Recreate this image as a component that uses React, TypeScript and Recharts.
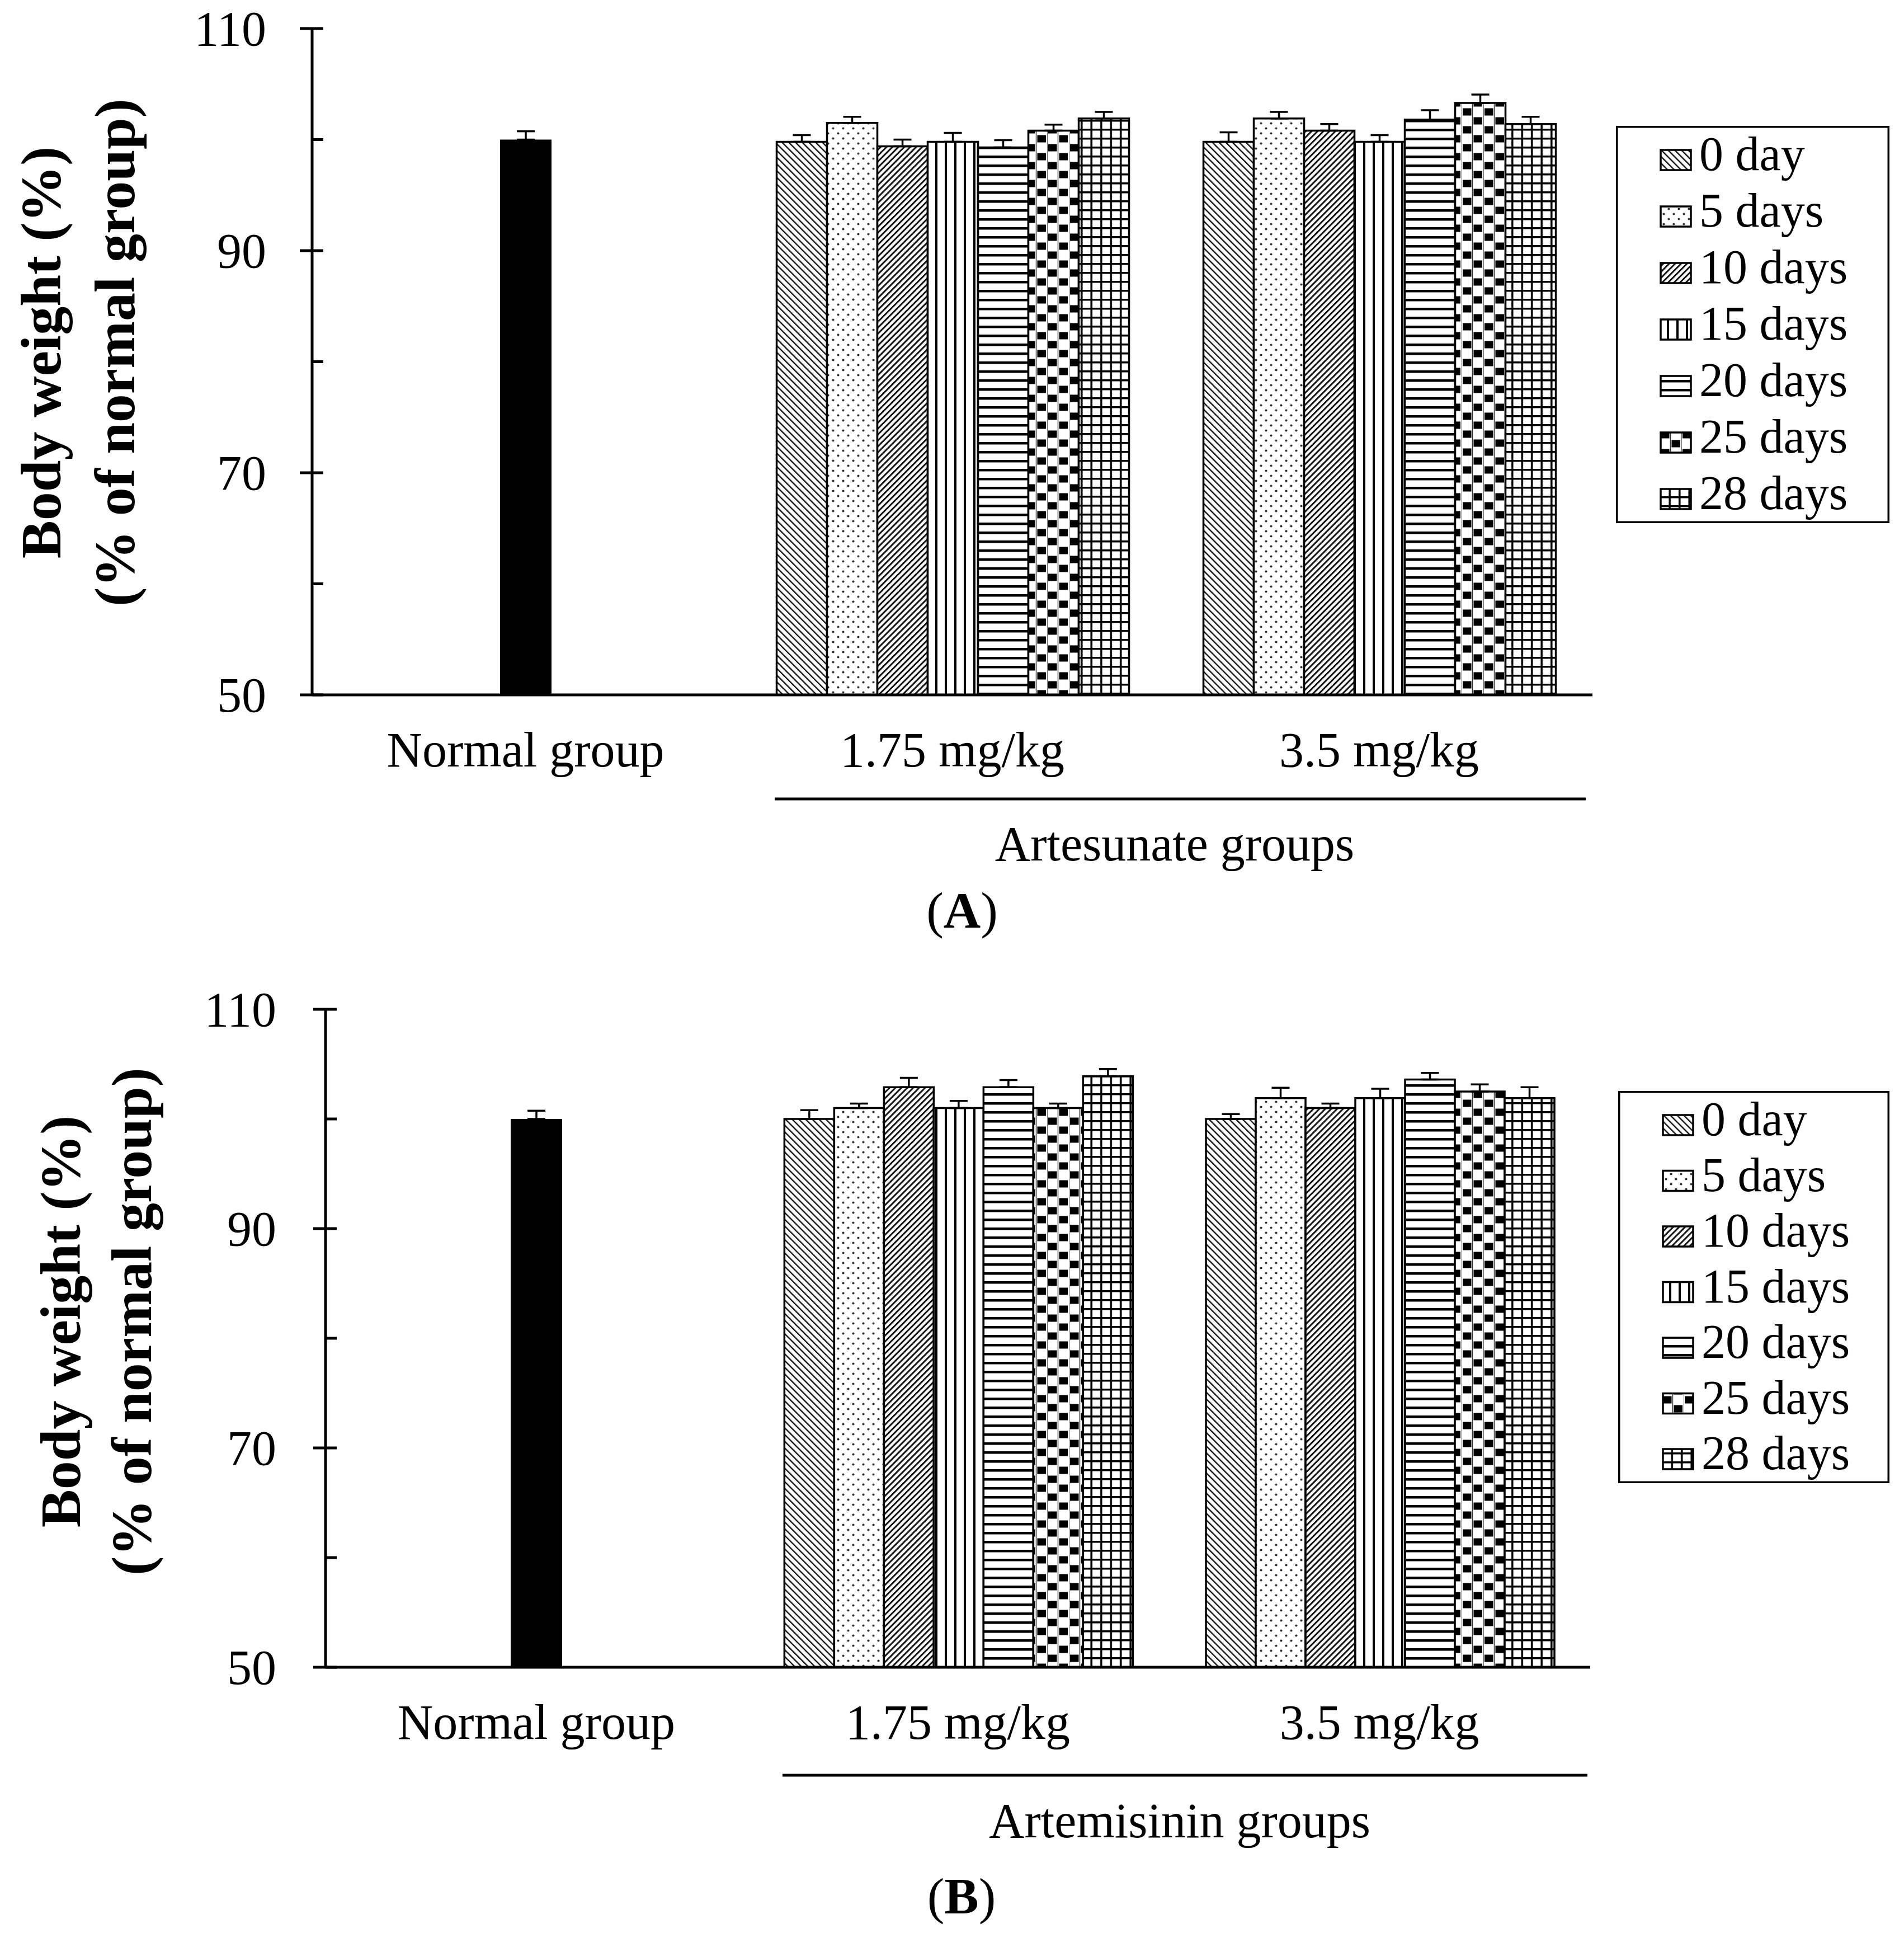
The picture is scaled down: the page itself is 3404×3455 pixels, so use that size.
import React from 'react';
import { BarChart, Bar, XAxis, YAxis, ErrorBar } from 'recharts';

// ─── Data ───────────────────────────────────────────────────────────────────

const categories = ['Normal group', '1.75 mg/kg', '3.5 mg/kg'];
const dayLabels = ['0 day', '5 days', '10 days', '15 days', '20 days', '25 days', '28 days'];
const yTicks = [50, 60, 70, 80, 90, 100, 110];
const yTickLabels = [50, 70, 90, 110];

// (A) artesunate
const normalA = 100.0;
const normalAErr = 0.75;
const artesunateLow = [99.8, 101.5, 99.4, 99.8, 99.3, 100.8, 101.9];
const artesunateLowErr = [0.6, 0.55, 0.6, 0.8, 0.65, 0.55, 0.6];
const artesunateHigh = [99.8, 101.9, 100.8, 99.8, 101.8, 103.3, 101.4];
const artesunateHighErr = [0.85, 0.6, 0.6, 0.6, 0.85, 0.75, 0.65];

// (B) artemisinin
const normalB = 100.0;
const normalBErr = 0.75;
const artemisininLow = [100.0, 101.0, 102.9, 101.0, 102.9, 101.0, 103.9];
const artemisininLowErr = [0.8, 0.4, 0.85, 0.65, 0.65, 0.4, 0.65];
const artemisininHigh = [100.0, 101.9, 101.0, 101.9, 103.6, 102.5, 101.9];
const artemisininHighErr = [0.45, 0.95, 0.4, 0.85, 0.6, 0.65, 1.0];

const seriesKeys = dayLabels.map((_, i) => `d${i}`);

function buildRows(
  normal: number,
  normalErr: number,
  low: number[],
  lowErr: number[],
  high: number[],
  highErr: number[],
) {
  return categories.map((cat, c) => {
    const row: Record<string, string | number | null> = { cat };
    if (c === 0) {
      row.normal = normal;
      row.normalErr = normalErr;
    } else {
      const vals = c === 1 ? low : high;
      const errs = c === 1 ? lowErr : highErr;
      seriesKeys.forEach((k, i) => {
        row[k] = vals[i];
        row[`${k}Err`] = errs[i];
      });
    }
    return row;
  });
}

const rowsA = buildRows(normalA, normalAErr, artesunateLow, artesunateLowErr, artesunateHigh, artesunateHighErr);
const rowsB = buildRows(normalB, normalBErr, artemisininLow, artemisininLowErr, artemisininHigh, artemisininHighErr);

// ─── Styling ────────────────────────────────────────────────────────────────

const SERIF = "'Liberation Serif', 'Times New Roman', serif";
const PAGE_W = 3404;
const PAGE_H = 3455;
const AXIS_W = 5;

// only upward whiskers, like the original
const upErr = (key: string) => (d: Record<string, number | null>) =>
  d[key] == null ? null : [0, d[key] as number];

// ─── Fill patterns (black & white hatching) ─────────────────────────────────

function PatternDefs() {
  return (
    <svg width={0} height={0} style={{ position: 'absolute', left: 0, top: 0 }}>
      <defs>
        {/* 0 day: downward diagonal */}
        <pattern id="pat-0" width={8.5} height={8.5} patternUnits="userSpaceOnUse" patternTransform="rotate(-45)">
          <rect width={8.5} height={8.5} fill="#fff" />
          <rect width={2.4} height={8.5} fill="#111" />
        </pattern>
        {/* 5 days: dots */}
        <pattern id="pat-1" width={18} height={18} patternUnits="userSpaceOnUse">
          <rect width={18} height={18} fill="#fff" />
          <circle cx={4.5} cy={4.5} r={2.1} fill="#333" />
          <circle cx={13.5} cy={13.5} r={2.1} fill="#333" />
        </pattern>
        {/* 10 days: upward diagonal */}
        <pattern id="pat-2" width={7.5} height={7.5} patternUnits="userSpaceOnUse" patternTransform="rotate(45)">
          <rect width={7.5} height={7.5} fill="#fff" />
          <rect width={3} height={7.5} fill="#111" />
        </pattern>
        {/* 15 days: vertical lines */}
        <pattern id="pat-3" width={17} height={10} patternUnits="userSpaceOnUse">
          <rect width={17} height={10} fill="#fff" />
          <rect x={6} width={4} height={10} fill="#000" />
        </pattern>
        {/* 20 days: horizontal lines */}
        <pattern id="pat-4" width={10} height={16} patternUnits="userSpaceOnUse">
          <rect width={10} height={16} fill="#fff" />
          <rect y={6} width={10} height={4.5} fill="#000" />
        </pattern>
        {/* 25 days: checker board */}
        <pattern id="pat-5" width={39} height={32} patternUnits="userSpaceOnUse">
          <rect width={39} height={32} fill="#fff" />
          <path d="M0,0 V32 M19.5,0 V32" stroke="#333" strokeWidth={1.5} />
          <rect x={2} y={1.5} width={15.5} height={13} fill="#000" />
          <rect x={21.5} y={17.5} width={15.5} height={13} fill="#000" />
        </pattern>
        {/* 28 days: grid */}
        <pattern id="pat-6" width={17.5} height={16} patternUnits="userSpaceOnUse">
          <rect width={17.5} height={16} fill="#fff" />
          <rect x={7} width={3.5} height={16} fill="#000" />
          <rect y={6} width={17.5} height={3.5} fill="#000" />
        </pattern>
      </defs>
    </svg>
  );
}

// ─── Axis ticks ─────────────────────────────────────────────────────────────

function YTick(props: any) {
  const { x, y, payload, gap } = props;
  const v = payload.value as number;
  const major = yTickLabels.includes(v);
  return (
    <g>
      <line x1={major ? x - 22 : x} x2={x + 20} y1={y} y2={y} stroke="#000" strokeWidth={AXIS_W} />
      {major && (
        <text x={x - gap} y={y} dy="0.34em" textAnchor="end" fontSize={88} fontFamily={SERIF} fill="#000">
          {v}
        </text>
      )}
    </g>
  );
}

function XTick(props: any) {
  const { x, y, payload } = props;
  return (
    <text x={x} y={y + 128} textAnchor="middle" fontSize={88} fontFamily={SERIF} fill="#000">
      {payload.value}
    </text>
  );
}

// ─── One panel ──────────────────────────────────────────────────────────────

interface PanelProps {
  rows: Record<string, string | number | null>[];
  top: number;
  plotLeft: number;
  plotRight: number;
  plotTop: number;
  plotBottom: number;
  labelGap: number;
}

function Panel({ rows, top, plotLeft, plotRight, plotTop, plotBottom, labelGap }: PanelProps) {
  const yAxisWidth = 300;
  const xAxisHeight = 200;
  const height = plotBottom - top + xAxisHeight;
  return (
    <div style={{ position: 'absolute', left: 0, top }}>
      <BarChart
        width={PAGE_W}
        height={height}
        data={rows}
        margin={{ top: plotTop - top, left: plotLeft - yAxisWidth, right: PAGE_W - plotRight, bottom: 0 }}
        barCategoryGap="8.85%"
        barGap={0}
      >
        <XAxis
          xAxisId="g"
          dataKey="cat"
          height={xAxisHeight}
          interval={0}
          axisLine={{ stroke: '#000', strokeWidth: AXIS_W }}
          tickLine={false}
          tickSize={0}
          tickMargin={0}
          tick={(p: any) => <XTick {...p} />}
        />
        <XAxis xAxisId="n" dataKey="cat" hide />
        <YAxis
          width={yAxisWidth}
          domain={[50, 110]}
          ticks={yTicks}
          interval={0}
          allowDataOverflow
          axisLine={{ stroke: '#000', strokeWidth: AXIS_W }}
          tickLine={false}
          tickSize={0}
          tickMargin={0}
          tick={(p: any) => <YTick {...p} gap={labelGap} />}
        />

        {seriesKeys.map((k, i) => (
          <Bar
            key={k}
            xAxisId="g"
            dataKey={k}
            name={dayLabels[i]}
            fill={`url(#pat-${i})`}
            stroke="#000"
            strokeWidth={3.5}
            isAnimationActive={false}
          >
            <ErrorBar dataKey={upErr(`${k}Err`)} direction="y" width={16} stroke="#000" strokeWidth={3.5} />
          </Bar>
        ))}

        <Bar xAxisId="n" dataKey="normal" name="Normal" barSize={92} fill="#000" isAnimationActive={false}>
          <ErrorBar dataKey={upErr('normalErr')} direction="y" width={16} stroke="#000" strokeWidth={3.5} />
        </Bar>
      </BarChart>
    </div>
  );
}

// ─── Legend box ─────────────────────────────────────────────────────────────

function LegendBox({ left, top, width, height, rowStep }: { left: number; top: number; width: number; height: number; rowStep: number }) {
  return (
    <svg style={{ position: 'absolute', left, top }} width={width} height={height}>
      <rect x={1.75} y={1.75} width={width - 3.5} height={height - 3.5} fill="#fff" stroke="#000" strokeWidth={3.5} />
      {dayLabels.map((lab, i) => {
        const cy = 61 + i * rowStep;
        return (
          <g key={lab}>
            <rect x={80} y={cy - 18} width={54} height={36} fill={`url(#pat-${i})`} stroke="#000" strokeWidth={3.5} />
            <text x={149} y={cy + 18} fontSize={86} fontFamily={SERIF} fill="#000">
              {lab}
            </text>
          </g>
        );
      })}
    </svg>
  );
}

function YTitle({ x1, x2, cy }: { x1: number; x2: number; cy: number }) {
  return (
    <g fontFamily={SERIF} fontWeight="bold" fontSize={102} fill="#000">
      <text transform={`translate(${x1},${cy}) rotate(-90)`} textAnchor="middle">
        Body weight (%)
      </text>
      <text transform={`translate(${x2},${cy}) rotate(-90)`} textAnchor="middle">
        (% of normal group)
      </text>
    </g>
  );
}

// ─── Page ───────────────────────────────────────────────────────────────────

export default function App() {
  return (
    <>
      <style>{'body{margin:0;background:#fff}'}</style>
      <div style={{ position: 'relative', width: PAGE_W, height: PAGE_H, background: '#fff', fontFamily: SERIF, overflow: 'hidden' }}>
        <PatternDefs />

        <Panel rows={rowsA} top={0} plotLeft={558} plotRight={2847} plotTop={51} plotBottom={1242} labelGap={82} />
        <Panel rows={rowsB} top={1740} plotLeft={582} plotRight={2843} plotTop={1804} plotBottom={2980} labelGap={88} />

        <LegendBox left={2889} top={225} width={489} height={710} rowStep={101} />
        <LegendBox left={2893} top={1950} width={485} height={701} rowStep={99.5} />

        <svg style={{ position: 'absolute', left: 0, top: 0, pointerEvents: 'none' }} width={PAGE_W} height={PAGE_H}>
          <YTitle x1={108} x2={240} cy={630} />
          <line x1={1385} x2={2835} y1={1428} y2={1428} stroke="#000" strokeWidth={5} />
          <text x={2100} y={1538} textAnchor="middle" fontSize={88} fontFamily={SERIF} fill="#000">
            Artesunate groups
          </text>
          <text x={1720} y={1658} textAnchor="middle" fontSize={92} fontFamily={SERIF} fill="#000">
            (<tspan fontWeight="bold">A</tspan>)
          </text>

          <YTitle x1={143} x2={270} cy={2362} />
          <line x1={1399} x2={2838} y1={3173} y2={3173} stroke="#000" strokeWidth={5} />
          <text x={2109} y={3284} textAnchor="middle" fontSize={88} fontFamily={SERIF} fill="#000">
            Artemisinin groups
          </text>
          <text x={1719} y={3420} textAnchor="middle" fontSize={92} fontFamily={SERIF} fill="#000">
            (<tspan fontWeight="bold">B</tspan>)
          </text>
        </svg>
      </div>
    </>
  );
}
